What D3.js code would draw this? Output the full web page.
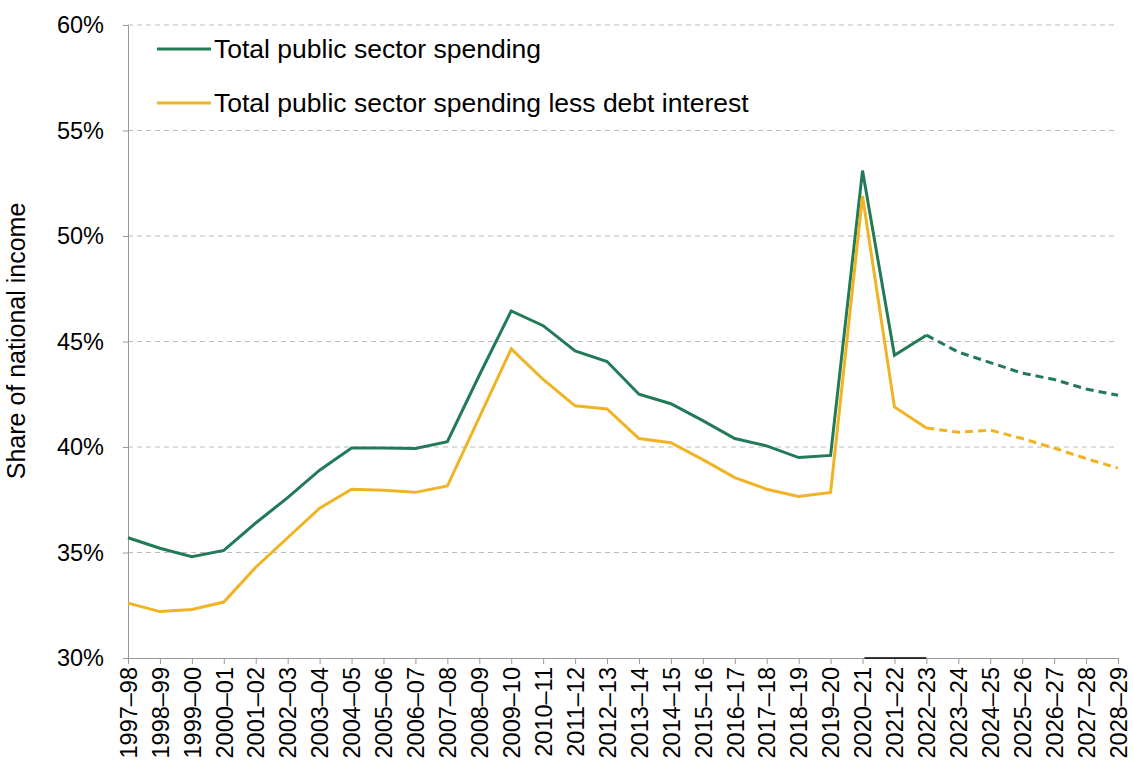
<!DOCTYPE html>
<html><head><meta charset="utf-8">
<script src="https://cdn.jsdelivr.net/npm/d3@7"></script>
<style>body{margin:0;background:#fff}svg{font-family:"Liberation Sans",Arial,sans-serif}</style>
</head><body>
<svg id="chart" width="1133" height="778"></svg>
<script>
"use strict";
const years = [];
for (let y = 1997; y <= 2028; y++) years.push(y + "\u2013" + String((y + 1) % 100).padStart(2, "0"));
const totalSpending = [35.7,35.2,34.8,35.1,36.4,37.6,38.9,39.95,39.95,39.93,40.25,43.4,46.45,45.75,44.55,44.05,42.5,42.05,41.25,40.4,40.05,39.5,39.6,53.1,44.35,45.3,44.5,44.0,43.5,43.2,42.75,42.45];
const lessInterest = [32.6,32.2,32.3,32.65,34.3,35.7,37.1,38.0,37.95,37.85,38.15,41.4,44.65,43.2,41.95,41.8,40.4,40.2,39.4,38.55,38.0,37.65,37.85,51.9,41.9,40.9,40.7,40.8,40.4,39.95,39.45,39.0];
const yTicks = [30,35,40,45,50,55,60];
const forecastStart = 25; // index of 2022–23
const green = "#237a57", yellow = "#f0b323";

const svg = d3.select("#chart");
const x = d3.scalePoint().domain(years).range([128, 1118]);
const y = d3.scaleLinear().domain([30, 60]).range([658, 25]);

svg.append("g").selectAll("line").data(yTicks.slice(1)).enter().append("line")
  .attr("x1", 128).attr("x2", 1118).attr("y1", d => y(d)).attr("y2", d => y(d))
  .attr("stroke", "#bbb").attr("stroke-dasharray", "5,4").attr("stroke-width", 1);

const yAxis = svg.append("g").attr("transform", "translate(128,0)")
  .call(d3.axisLeft(y).tickValues(yTicks).tickFormat(d => d + "%").tickSize(5));
yAxis.select(".domain").attr("stroke", "#999");
yAxis.selectAll(".tick line").attr("stroke", "#999");
yAxis.selectAll("text").attr("font-size", 23.5).attr("fill", "#000").attr("x", -24);

const xAxis = svg.append("g").attr("transform", "translate(0,658)")
  .call(d3.axisBottom(x).tickSize(6));
xAxis.select(".domain").attr("stroke", "#999");
xAxis.selectAll(".tick line").attr("stroke", "#999");
xAxis.selectAll("text").attr("font-size", 23.5).attr("fill", "#000")
  .attr("transform", "rotate(-90)").attr("text-anchor", "end")
  .attr("x", -9).attr("y", 0).attr("dy", "0.35em");
svg.append("line").attr("x1", x(years[23]) + 2).attr("x2", x(years[25]))
  .attr("y1", 658).attr("y2", 658).attr("stroke", "#000").attr("stroke-width", 1.5);

const line = d3.line().x(d => x(d.k)).y(d => y(d.v));
function draw(vals, col) {
  const pts = vals.map((v, i) => ({k: years[i], v}));
  svg.append("path").datum(pts.slice(0, forecastStart + 1)).attr("d", line)
    .attr("fill", "none").attr("stroke", col).attr("stroke-width", 3);
  svg.append("path").datum(pts.slice(forecastStart)).attr("d", line)
    .attr("fill", "none").attr("stroke", col).attr("stroke-width", 3).attr("stroke-dasharray", "8,5");
}
draw(totalSpending, green);
draw(lessInterest, yellow);

const legend = [["Total public sector spending", green, 49], ["Total public sector spending less debt interest", yellow, 103]];
legend.forEach(([t, c, ly]) => {
  svg.append("line").attr("x1", 157).attr("x2", 211).attr("y1", ly).attr("y2", ly).attr("stroke", c).attr("stroke-width", 3);
  svg.append("text").attr("x", 214).attr("y", ly).attr("dy", "0.35em").attr("font-size", 26.5).text(t);
});

svg.append("text").attr("transform", "translate(25,341) rotate(-90)").attr("text-anchor", "middle")
  .attr("font-size", 25).text("Share of national income");
</script>
</body></html>
